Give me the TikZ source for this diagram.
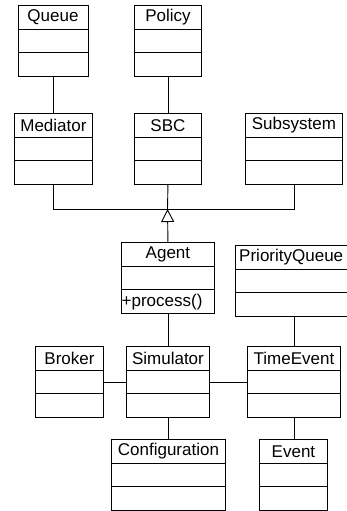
\documentclass[tikz,border=0pt]{standalone}
\usepackage{fontspec}
\setmainfont{Liberation Sans}
\usetikzlibrary{calc,arrows.meta}
\tikzset{
  cls/.style={draw, line width=0.9pt, inner sep=0pt, minimum height=71pt, anchor=north west},
  sep/.style={line width=0.9pt},
  conn/.style={line width=0.9pt},
  ttl/.style={inner sep=0pt, font=\fontsize{17}{19}\selectfont},
}
% name, left x, top y, width, title
\newcommand\umlclassbox[5]{%
  \node[cls, minimum width=#4pt] (#1) at (#2,-#3) {};
  \node[ttl] (#1-title) at ($(#1.north)+(0,-12.5)$) {#5};
  \draw[sep] ($(#1.north west)+(0,-24)$) -- ($(#1.north east)+(0,-24)$);
  \draw[sep] ($(#1.north west)+(0,-47.5)$) -- ($(#1.north east)+(0,-47.5)$);
}
\begin{document}
\begin{tikzpicture}[x=1pt,y=1pt]
\useasboundingbox (0,0) rectangle (347,-511);
\umlclassbox{queue}{17.5}{5}{70}{Queue}
\umlclassbox{policy}{134}{5}{67}{Policy}
\umlclassbox{mediator}{14}{113}{78}{Mediator}
\umlclassbox{sbc}{134}{113}{67}{SBC}
\umlclassbox{subsystem}{245}{113}{97}{Subsystem}
\umlclassbox{agent}{121}{242}{93}{Agent}
\node[ttl, anchor=west] (agent-op) at ($(agent.south west)+(0.5,12)$) {+process()};
\umlclassbox{pq}{235}{245}{111.5}{PriorityQueue}
\umlclassbox{broker}{35}{346}{68}{Broker}
\umlclassbox{simulator}{126}{346}{83}{Simulator}
\umlclassbox{timeevent}{247}{346}{93}{TimeEvent}
\umlclassbox{config}{111}{439}{114}{Configuration}
\umlclassbox{event}{259}{439}{68}{Event}

\coordinate (gen) at (167.5,-209);
\draw[conn] (queue.south) -- (queue.south |- mediator.north);
\draw[conn] (policy.south) -- (sbc.north);
\draw[conn] (mediator.south) -- (mediator.south |- gen) -- (subsystem.south |- gen) -- (subsystem.south);
\draw[conn] (sbc.south) -- (gen);
\draw[conn, -{Triangle[open,length=13pt,width=13pt,line width=0.9pt]}] (agent.north) -- (gen);
\draw[conn] (agent.south) -- (simulator.north);
\draw[conn] (timeevent.north) -- (timeevent.north |- pq.south);
\draw[conn] (broker.east) -- (simulator.west);
\draw[conn] (simulator.east) -- (timeevent.west);
\draw[conn] (simulator.south) -- (simulator.south |- config.north);
\draw[conn] (timeevent.south) -- (timeevent.south |- event.north);
\end{tikzpicture}
\end{document}
